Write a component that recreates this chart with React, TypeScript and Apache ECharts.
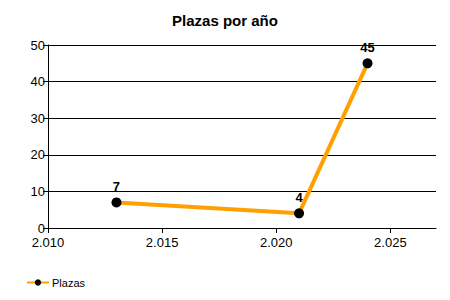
import React, { useEffect, useRef } from "react";
import * as echarts from "echarts";

const years = [2013, 2021, 2024];
const plazas = [7, 4, 45];
const xTicks = [2010, 2015, 2020, 2025];
const titleText = "Plazas por año";
const seriesName = "Plazas";

export default function App() {
  const ref = useRef<HTMLDivElement>(null);
  useEffect(() => {
    const chart = echarts.init(ref.current!, null, { renderer: "svg" });
    const font = "Liberation Sans, Arial, sans-serif";
    chart.setOption({
      animation: false,
      textStyle: { fontFamily: font },
      title: {
        text: titleText,
        left: "center",
        top: 8,
        textStyle: { fontSize: 15, fontWeight: "bold", color: "#000", fontFamily: font },
      },
      legend: {
        left: 21,
        top: 272,
        itemWidth: 22,
        itemHeight: 8,
        itemGap: 4,
        textStyle: { fontSize: 11, color: "#000", fontFamily: font, padding: [0, 0, 0, -2] },
        data: [seriesName],
      },
      grid: { left: 48, right: 14, top: 45, bottom: 72 },
      xAxis: {
        type: "value",
        min: 2010,
        max: 2027,
        interval: 5,
        axisLine: { show: true, lineStyle: { color: "#000", width: 1 } },
        axisTick: { show: true, length: 5, lineStyle: { color: "#000" }, customValues: xTicks },
        axisLabel: {
          customValues: xTicks,
          fontSize: 13,
          color: "#000",
          margin: 8,
          fontFamily: font,
          formatter: (v: number) => (v / 1000).toFixed(3),
        },
        splitLine: { show: false },
      },
      yAxis: {
        type: "value",
        min: 0,
        max: 50,
        interval: 10,
        axisLine: { show: true, lineStyle: { color: "#000", width: 1 } },
        axisTick: { show: true, length: 5, lineStyle: { color: "#000" } },
        axisLabel: { fontSize: 13, color: "#000", margin: 3, fontFamily: font },
        splitLine: { show: true, lineStyle: { color: "#000", width: 1 } },
      },
      series: [
        {
          name: seriesName,
          type: "line",
          data: years.map((y, i) => [y, plazas[i]]),
          lineStyle: { color: "#FFA000", width: 4 },
          itemStyle: { color: "#000" },
          symbol: "circle",
          symbolSize: 10,
          label: {
            show: true,
            position: "top",
            distance: 4,
            fontSize: 13,
            fontWeight: "bold",
            color: "#000",
            fontFamily: font,
          },
        },
      ],
    });
    return () => chart.dispose();
  }, []);
  return <div ref={ref} style={{ width: 450, height: 300, margin: -8 }} />;
}
